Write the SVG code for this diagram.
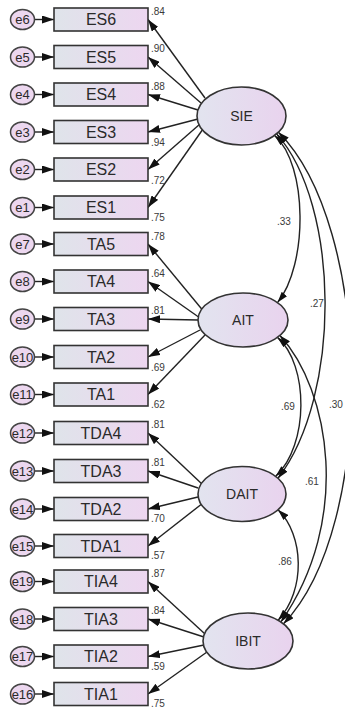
<svg xmlns="http://www.w3.org/2000/svg" width="345" height="712" viewBox="0 0 345 712">
<defs>
<linearGradient id="gr" x1="0" y1="0" x2="1" y2="0"><stop offset="0" stop-color="#dfe4ea"/><stop offset="1" stop-color="#edd6f0"/></linearGradient>
<linearGradient id="ge" x1="0" y1="0" x2="1" y2="0"><stop offset="0" stop-color="#e2e4ef"/><stop offset="1" stop-color="#e9d3ee"/></linearGradient>
<marker id="ah" viewBox="0 0 12 8" refX="12" refY="4" markerWidth="12" markerHeight="8" markerUnits="userSpaceOnUse" orient="auto-start-reverse"><path d="M0,0 L12,4 L0,8 z" fill="#111"/></marker>
<marker id="ac" viewBox="0 0 11 7" refX="11" refY="3.5" markerWidth="11" markerHeight="7" markerUnits="userSpaceOnUse" orient="auto-start-reverse"><path d="M0,0 L11,3.5 L0,7 z" fill="#111"/></marker>
</defs>
<style>
.ln{stroke:#222;stroke-width:1.4;fill:none;marker-end:url(#ah)}
.cv{stroke:#222;stroke-width:1.4;fill:none;marker-start:url(#ac);marker-end:url(#ac)}
.box{fill:url(#gr);stroke:#333;stroke-width:1.6}
.lat{fill:url(#ge);stroke:#333;stroke-width:1.6}
.err{fill:#ecd7ef;stroke:#444;stroke-width:1.5}
.bt{font-family:"Liberation Sans",Arial,sans-serif;font-size:16px;fill:#2a2a2a;text-anchor:middle;dominant-baseline:central}
.lt{font-family:"Liberation Sans",Arial,sans-serif;font-size:14px;fill:#2a2a2a;text-anchor:middle;dominant-baseline:central}
.et{font-family:"Liberation Sans",Arial,sans-serif;font-size:13px;fill:#2a2a2a;text-anchor:middle;dominant-baseline:central}
.nm{font-family:"Liberation Sans",Arial,sans-serif;font-size:10px;fill:#3a3a3a}
</style>
<g id="connectors">
<line class="ln" x1="35" y1="19.5" x2="54" y2="19.5"/>
<line class="ln" x1="35" y1="57" x2="54" y2="57"/>
<line class="ln" x1="35" y1="94.5" x2="54" y2="94.5"/>
<line class="ln" x1="35" y1="132" x2="54" y2="132"/>
<line class="ln" x1="35" y1="169.5" x2="54" y2="169.5"/>
<line class="ln" x1="35" y1="207.5" x2="54" y2="207.5"/>
<line class="ln" x1="35" y1="244" x2="54" y2="244"/>
<line class="ln" x1="35" y1="281.5" x2="54" y2="281.5"/>
<line class="ln" x1="35" y1="319" x2="54" y2="319"/>
<line class="ln" x1="35" y1="357" x2="54" y2="357"/>
<line class="ln" x1="35" y1="394.5" x2="54" y2="394.5"/>
<line class="ln" x1="35" y1="433" x2="54" y2="433"/>
<line class="ln" x1="35" y1="471" x2="54" y2="471"/>
<line class="ln" x1="35" y1="509" x2="54" y2="509"/>
<line class="ln" x1="35" y1="546" x2="54" y2="546"/>
<line class="ln" x1="35" y1="581.5" x2="54" y2="581.5"/>
<line class="ln" x1="35" y1="619" x2="54" y2="619"/>
<line class="ln" x1="35" y1="656.5" x2="54" y2="656.5"/>
<line class="ln" x1="35" y1="694" x2="54" y2="694"/>
<line class="ln" x1="205" y1="98" x2="148" y2="19.5"/>
<line class="ln" x1="201" y1="103" x2="148" y2="57"/>
<line class="ln" x1="198" y1="110" x2="148" y2="94.5"/>
<line class="ln" x1="198" y1="119" x2="148" y2="132"/>
<line class="ln" x1="200" y1="124" x2="148" y2="169.5"/>
<line class="ln" x1="203" y1="129" x2="148" y2="207.5"/>
<line class="ln" x1="205" y1="313" x2="148" y2="244"/>
<line class="ln" x1="200" y1="318" x2="148" y2="281.5"/>
<line class="ln" x1="198" y1="320" x2="148" y2="319"/>
<line class="ln" x1="200" y1="330" x2="148" y2="357"/>
<line class="ln" x1="205" y1="335" x2="148" y2="394.5"/>
<line class="ln" x1="203" y1="485" x2="148" y2="433"/>
<line class="ln" x1="198" y1="488" x2="148" y2="471"/>
<line class="ln" x1="198" y1="497" x2="148" y2="509"/>
<line class="ln" x1="203" y1="503" x2="148" y2="546"/>
<line class="ln" x1="205" y1="634" x2="148" y2="581.5"/>
<line class="ln" x1="204" y1="637" x2="148" y2="619"/>
<line class="ln" x1="204" y1="645" x2="148" y2="656.5"/>
<line class="ln" x1="207" y1="652" x2="148" y2="694"/>
<path class="cv" d="M274.6,135.4 C308,165 308,265 277.5,302.6"/>
<path class="cv" d="M276.6,133.9 C340,205 342,395 278,478.2"/>
<path class="cv" d="M278.4,132.2 C372,225 378,525 283.5,623.8"/>
<path class="cv" d="M277.5,337.4 C309,365 309,445 275.7,476.3"/>
<path class="cv" d="M279.9,335.5 C330,390 352,520 280.9,621.9"/>
<path class="cv" d="M278,509.8 C304,535 306,590 278.1,620.2"/>
<text class="nm" x="151" y="14.5">.84</text>
<text class="nm" x="151" y="52">.90</text>
<text class="nm" x="151" y="89.5">.88</text>
<text class="nm" x="151" y="146">.94</text>
<text class="nm" x="151" y="184">.72</text>
<text class="nm" x="151" y="220.5">.75</text>
<text class="nm" x="151" y="239.5">.78</text>
<text class="nm" x="151" y="277">.64</text>
<text class="nm" x="151" y="314">.81</text>
<text class="nm" x="151" y="371">.69</text>
<text class="nm" x="151" y="407.5">.62</text>
<text class="nm" x="151" y="428">.81</text>
<text class="nm" x="151" y="466">.81</text>
<text class="nm" x="151" y="521.5">.70</text>
<text class="nm" x="151" y="558.5">.57</text>
<text class="nm" x="151" y="576.5">.87</text>
<text class="nm" x="151" y="614">.84</text>
<text class="nm" x="151" y="670">.59</text>
<text class="nm" x="151" y="707">.75</text>
<text class="nm" x="277" y="225">.33</text>
<text class="nm" x="310" y="307">.27</text>
<text class="nm" x="329" y="408">.30</text>
<text class="nm" x="281" y="410">.69</text>
<text class="nm" x="305" y="485">.61</text>
<text class="nm" x="278" y="565">.86</text>
</g>
<g id="n-e6"><ellipse class="err" cx="22.5" cy="19.5" rx="12" ry="10"/><text class="et" x="22.5" y="19.5">e6</text></g>
<g id="n-e5"><ellipse class="err" cx="22.5" cy="57" rx="12" ry="10"/><text class="et" x="22.5" y="57">e5</text></g>
<g id="n-e4"><ellipse class="err" cx="22.5" cy="94.5" rx="12" ry="10"/><text class="et" x="22.5" y="94.5">e4</text></g>
<g id="n-e3"><ellipse class="err" cx="22.5" cy="132" rx="12" ry="10"/><text class="et" x="22.5" y="132">e3</text></g>
<g id="n-e2"><ellipse class="err" cx="22.5" cy="169.5" rx="12" ry="10"/><text class="et" x="22.5" y="169.5">e2</text></g>
<g id="n-e1"><ellipse class="err" cx="22.5" cy="207.5" rx="12" ry="10"/><text class="et" x="22.5" y="207.5">e1</text></g>
<g id="n-e7"><ellipse class="err" cx="22.5" cy="244" rx="12" ry="10"/><text class="et" x="22.5" y="244">e7</text></g>
<g id="n-e8"><ellipse class="err" cx="22.5" cy="281.5" rx="12" ry="10"/><text class="et" x="22.5" y="281.5">e8</text></g>
<g id="n-e9"><ellipse class="err" cx="22.5" cy="319" rx="12" ry="10"/><text class="et" x="22.5" y="319">e9</text></g>
<g id="n-e10"><ellipse class="err" cx="22.5" cy="357" rx="12" ry="10"/><text class="et" x="22.5" y="357">e10</text></g>
<g id="n-e11"><ellipse class="err" cx="22.5" cy="394.5" rx="12" ry="10"/><text class="et" x="22.5" y="394.5">e11</text></g>
<g id="n-e12"><ellipse class="err" cx="22.5" cy="433" rx="12" ry="10"/><text class="et" x="22.5" y="433">e12</text></g>
<g id="n-e13"><ellipse class="err" cx="22.5" cy="471" rx="12" ry="10"/><text class="et" x="22.5" y="471">e13</text></g>
<g id="n-e14"><ellipse class="err" cx="22.5" cy="509" rx="12" ry="10"/><text class="et" x="22.5" y="509">e14</text></g>
<g id="n-e15"><ellipse class="err" cx="22.5" cy="546" rx="12" ry="10"/><text class="et" x="22.5" y="546">e15</text></g>
<g id="n-e19"><ellipse class="err" cx="22.5" cy="581.5" rx="12" ry="10"/><text class="et" x="22.5" y="581.5">e19</text></g>
<g id="n-e18"><ellipse class="err" cx="22.5" cy="619" rx="12" ry="10"/><text class="et" x="22.5" y="619">e18</text></g>
<g id="n-e17"><ellipse class="err" cx="22.5" cy="656.5" rx="12" ry="10"/><text class="et" x="22.5" y="656.5">e17</text></g>
<g id="n-e16"><ellipse class="err" cx="22.5" cy="694" rx="12" ry="10"/><text class="et" x="22.5" y="694">e16</text></g>
<g id="n-ES6"><rect class="box" x="54" y="8" width="94" height="23"/><text class="bt" x="101" y="19.5">ES6</text></g>
<g id="n-ES5"><rect class="box" x="54" y="45.5" width="94" height="23"/><text class="bt" x="101" y="57">ES5</text></g>
<g id="n-ES4"><rect class="box" x="54" y="83" width="94" height="23"/><text class="bt" x="101" y="94.5">ES4</text></g>
<g id="n-ES3"><rect class="box" x="54" y="120.5" width="94" height="23"/><text class="bt" x="101" y="132">ES3</text></g>
<g id="n-ES2"><rect class="box" x="54" y="158" width="94" height="23"/><text class="bt" x="101" y="169.5">ES2</text></g>
<g id="n-ES1"><rect class="box" x="54" y="196" width="94" height="23"/><text class="bt" x="101" y="207.5">ES1</text></g>
<g id="n-TA5"><rect class="box" x="54" y="232.5" width="94" height="23"/><text class="bt" x="101" y="244">TA5</text></g>
<g id="n-TA4"><rect class="box" x="54" y="270" width="94" height="23"/><text class="bt" x="101" y="281.5">TA4</text></g>
<g id="n-TA3"><rect class="box" x="54" y="307.5" width="94" height="23"/><text class="bt" x="101" y="319">TA3</text></g>
<g id="n-TA2"><rect class="box" x="54" y="345.5" width="94" height="23"/><text class="bt" x="101" y="357">TA2</text></g>
<g id="n-TA1"><rect class="box" x="54" y="383" width="94" height="23"/><text class="bt" x="101" y="394.5">TA1</text></g>
<g id="n-TDA4"><rect class="box" x="54" y="421.5" width="94" height="23"/><text class="bt" x="101" y="433">TDA4</text></g>
<g id="n-TDA3"><rect class="box" x="54" y="459.5" width="94" height="23"/><text class="bt" x="101" y="471">TDA3</text></g>
<g id="n-TDA2"><rect class="box" x="54" y="497.5" width="94" height="23"/><text class="bt" x="101" y="509">TDA2</text></g>
<g id="n-TDA1"><rect class="box" x="54" y="534.5" width="94" height="23"/><text class="bt" x="101" y="546">TDA1</text></g>
<g id="n-TIA4"><rect class="box" x="54" y="570" width="94" height="23"/><text class="bt" x="101" y="581.5">TIA4</text></g>
<g id="n-TIA3"><rect class="box" x="54" y="607.5" width="94" height="23"/><text class="bt" x="101" y="619">TIA3</text></g>
<g id="n-TIA2"><rect class="box" x="54" y="645" width="94" height="23"/><text class="bt" x="101" y="656.5">TIA2</text></g>
<g id="n-TIA1"><rect class="box" x="54" y="682.5" width="94" height="23"/><text class="bt" x="101" y="694">TIA1</text></g>
<g id="n-SIE"><ellipse class="lat" cx="241.5" cy="116" rx="44.5" ry="29"/><text class="lt" x="241.5" y="116">SIE</text></g>
<g id="n-AIT"><ellipse class="lat" cx="243" cy="320" rx="45" ry="27"/><text class="lt" x="243" y="320">AIT</text></g>
<g id="n-DAIT"><ellipse class="lat" cx="242" cy="494" rx="44" ry="27.5"/><text class="lt" x="242" y="494">DAIT</text></g>
<g id="n-IBIT"><ellipse class="lat" cx="248" cy="641" rx="45" ry="28"/><text class="lt" x="248" y="641">IBIT</text></g>
</svg>
